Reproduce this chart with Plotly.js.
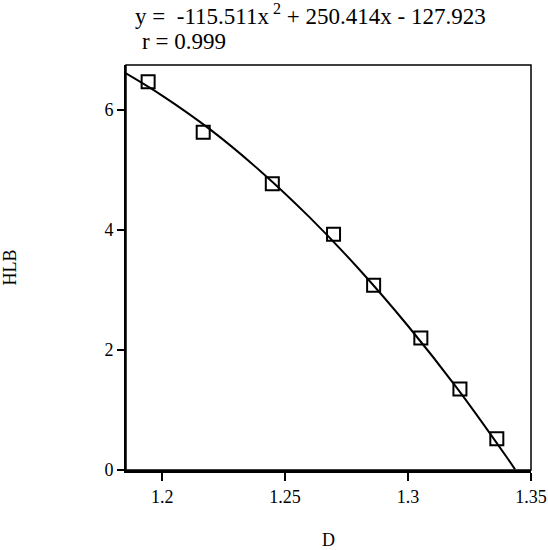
<!DOCTYPE html>
<html>
<head>
<meta charset="utf-8">
<script src="https://cdn.plot.ly/plotly-3.0.1.min.js"></script>
<style>
  html, body { margin: 0; padding: 0; background: #fff; }
  #chart { width: 548px; height: 550px; }
</style>
</head>
<body>
<div id="chart"></div>
<script>
// measured points (squares)
var pointD = [1.1943, 1.2167, 1.2448, 1.2697, 1.2860, 1.3052, 1.3211, 1.3361];
var pointHLB = [6.47, 5.63, 4.77, 3.93, 3.08, 2.20, 1.35, 0.52];

// fitted curve
var curveD = [1.1853, 1.20, 1.22, 1.24, 1.26, 1.28, 1.30, 1.32, 1.34, 1.3435];
var curveHLB = [6.61, 6.24, 5.66, 4.98, 4.21, 3.35, 2.40, 1.36, 0.22, 0.01];

var xTicks = [1.2, 1.25, 1.3, 1.35];
var xTickText = ["1.2", "1.25", "1.3", "1.35"];
var yTicks = [0, 2, 4, 6];

var serif = "Liberation Serif, Times New Roman, serif";

var data = [
    {
        x: curveD, y: curveHLB, type: "scatter", mode: "lines",
        line: { color: "#000", width: 2, shape: "spline" },
        hoverinfo: "skip"
    },
    {
        x: pointD, y: pointHLB, type: "scatter", mode: "markers",
        marker: { symbol: "square-open", size: 13, color: "#000", line: { width: 2, color: "#000" } }
    }
];

var layout = {
    width: 548,
    height: 550,
    margin: { l: 126, r: 17, t: 65, b: 80 },
    paper_bgcolor: "#fff",
    plot_bgcolor: "#fff",
    showlegend: false,
    font: { family: serif, size: 18, color: "#000" },
    xaxis: {
        range: [1.1853, 1.35],
        tickvals: xTicks,
        ticktext: xTickText,
        ticks: "outside", ticklen: 8, tickwidth: 2, tickcolor: "#000",
        showline: true, linewidth: 3, linecolor: "#000",
        showgrid: false, zeroline: false,
        tickfont: { family: serif, size: 18 },
        title: { text: "D", font: { family: serif, size: 18 }, standoff: 33 }
    },
    yaxis: {
        range: [0, 6.75],
        tickvals: yTicks,
        ticks: "outside", ticklen: 7, tickwidth: 2, tickcolor: "#000",
        showline: true, linewidth: 2, linecolor: "#000",
        showgrid: false, zeroline: false,
        tickfont: { family: serif, size: 18 },
        title: { text: "HLB", font: { family: serif, size: 18 }, standoff: 84 }
    },
    shapes: [
        { type: "rect", xref: "paper", yref: "paper", x0: 0, x1: 1, y0: 0, y1: 1,
          line: { color: "#000", width: 1.5 } }
    ],
    annotations: [
        { xref: "paper", yref: "paper", x: 0.017, y: 1.1235, xanchor: "left", yanchor: "middle",
          showarrow: false, font: { family: serif, size: 23, color: "#000" },
          text: "y =  -115.511x<sup> 2</sup> + 250.414x - 127.923" },
        { xref: "paper", yref: "paper", x: 0.0346, y: 1.0568, xanchor: "left", yanchor: "middle",
          showarrow: false, font: { family: serif, size: 23, color: "#000" },
          text: "r = 0.999" }
    ]
};

Plotly.newPlot("chart", data, layout, { displayModeBar: false, staticPlot: true });
</script>
</body>
</html>
